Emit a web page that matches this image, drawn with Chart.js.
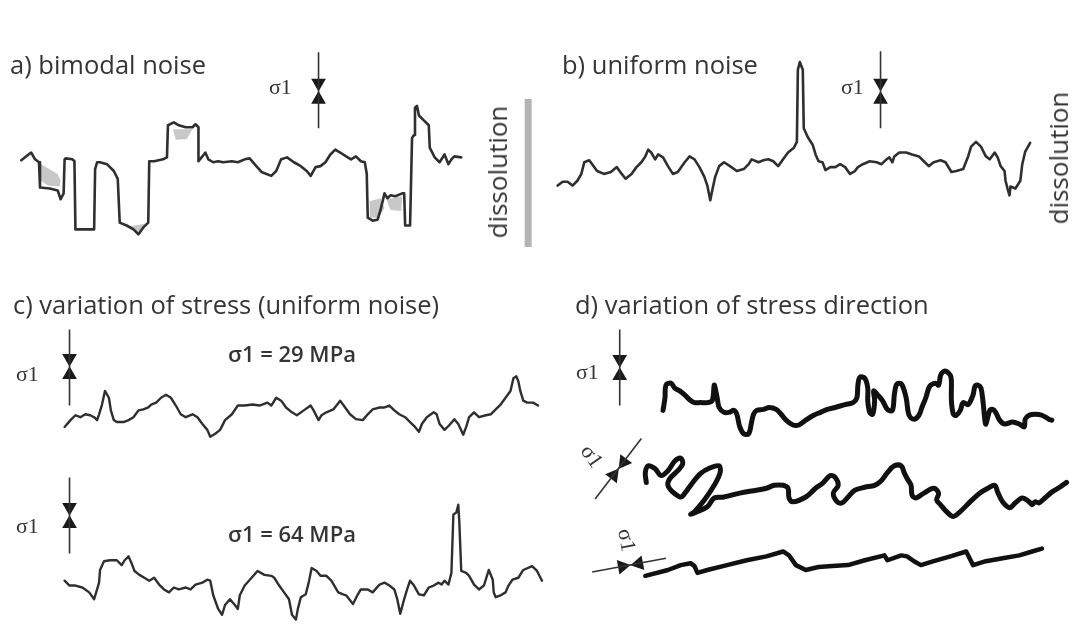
<!DOCTYPE html>
<html>
<head>
<meta charset="utf-8">
<title>Stylolite roughness</title>
<script src="https://cdn.jsdelivr.net/npm/chart.js@4.4.1/dist/chart.umd.min.js"></script>
<style>
  html, body { margin: 0; padding: 0; background: #fff; }
  #wrap { position: relative; width: 1079px; height: 632px; overflow: hidden; }
  #fig { position: absolute; left: 0; top: 0; }
  .lbl { position: absolute; white-space: nowrap; line-height: 1; color: #353535; }
  .sans { font-family: "Open Sans", "Noto Sans", sans-serif; }
  .serif { font-family: "Liberation Serif", "DejaVu Serif", serif; }
</style>
</head>
<body>
<div id="wrap">
  <canvas id="fig" width="1079" height="632"></canvas>
</div>
<script>
// traced profiles (figure units, y grows downwards)

// a) bimodal noise
const bimodalX = [13,23,27,31,32,42,50,53,56,57,58,65,67,68,87,88,90,93,100,107,111,113,120,127,132,137,142,143,148,157,161,162,168,173,180,187,190,193,193,197,200,203,208,213,218,227,233,240,245,250,257,267,272,277,283,290,297,303,307,312,317,322,327,332,337,343,348,353,358,362,364,365,370,375,378,382,385,388,393,400,402,403,408,410,412,413,415,417,422,427,428,433,438,443,447,450,453,460];
const bimodalY = [156,148,155,158,184,185,187,196,190,155,154,155,157,227,227,165,158,158,160,167,175,220,223,227,232,225,220,157,157,155,153,120,117,120,122,122,119,122,157,152,148,155,158,157,158,157,158,155,154,160,168,172,167,155,153,158,162,167,172,163,162,158,150,145,148,152,155,152,157,158,170,215,218,217,207,190,195,192,193,190,190,223,223,133,130,102,100,110,115,120,143,153,158,150,160,155,152,153];

// grey patches of dissolved material in a)
const patches = [
  { x: [33,50,53,52,40,33], y: [160,170,177,183,182,177] },
  { x: [167,187,181,170], y: [124,124,134,135] },
  { x: [122,140,135,127], y: [224,221,229,229] },
  { x: [367,378,382,376,367], y: [198,195,205,215,215] },
  { x: [384,400,399,388], y: [196,193,208,207] }
];

// b) uniform noise
const uniformX = [558,563,568,573,578,582,585,590,593,598,605,612,618,623,627,633,638,643,647,650,653,657,660,665,670,675,680,687,692,697,702,707,710,713,715,718,722,727,733,740,747,752,755,762,767,772,777,782,787,792,798,801,802,804,807,808,812,817,820,823,827,830,835,840,845,850,855,860,863,868,875,882,887,892,895,898,900,905,912,918,925,930,935,940,947,952,958,963,970,975,978,983,988,993,997,1002,1005,1008,1012,1013,1015,1017,1018,1023,1028,1030,1033,1038];
const uniformY = [182,178,178,182,177,170,158,156,160,167,170,168,163,170,175,170,163,158,152,145,148,155,150,153,162,170,168,158,152,155,163,173,182,197,187,173,162,158,162,167,165,160,155,158,156,155,157,162,155,148,143,137,63,55,63,123,132,140,150,157,158,166,163,163,160,163,170,167,163,160,157,158,160,155,153,158,152,148,148,150,152,157,162,158,156,158,168,167,165,152,142,137,142,152,155,148,153,162,167,177,185,192,183,185,177,160,147,138];

// c) sigma1 = 29 MPa
const low29X = [57,63,68,73,78,83,87,90,92,95,98,102,104,107,110,117,122,127,132,137,142,145,150,155,160,165,170,175,180,187,192,197,202,205,210,215,220,227,233,240,248,255,263,267,272,277,282,288,293,300,307,310,315,318,323,330,337,342,347,353,360,365,370,377,382,387,392,397,403,408,413,417,420,425,432,435,438,443,448,453,457,462,465,468,473,478,485,490,495,500,505,510,513,516,518,520,523,527,533,538];
const low29Y = [430,423,418,420,417,418,420,423,417,407,393,400,413,423,425,425,423,420,413,412,410,407,405,400,397,400,408,417,420,417,420,427,433,440,437,433,423,417,408,408,407,408,405,408,400,403,410,415,418,413,408,413,423,418,415,412,403,410,417,422,423,417,412,410,410,408,413,417,420,425,430,435,427,420,415,417,427,433,428,422,427,438,430,420,415,420,418,417,412,407,400,393,380,378,383,393,403,405,405,408];

// c) sigma1 = 64 MPa
const high64X = [57,62,68,75,82,87,90,92,93,97,103,110,115,118,122,125,128,133,138,143,148,153,158,163,168,173,180,185,190,197,202,205,208,213,217,220,225,230,233,235,240,247,253,260,267,270,275,280,285,288,292,294,297,302,305,308,313,317,323,328,335,340,343,350,355,358,365,370,377,382,387,392,395,398,402,405,408,412,417,422,427,432,437,440,443,447,450,452,455,457,458,460,465,468,473,478,483,488,492,493,495,500,505,508,512,518,523,532,537,542];
const high64Y = [588,593,593,595,600,607,597,590,577,568,567,567,572,567,563,570,578,582,585,588,585,592,597,600,595,597,595,597,592,590,587,588,603,617,623,613,607,613,617,603,593,585,578,582,583,585,593,600,607,623,628,617,605,602,590,575,578,583,583,588,600,602,603,612,602,597,597,600,592,590,593,597,607,622,607,597,588,593,602,603,595,593,590,592,588,592,580,520,518,510,527,578,580,583,592,597,593,577,587,600,605,603,600,593,587,585,577,573,578,588];

// d) vertical sigma1
const dirVertX = [665,667,668,673,677,682,687,692,697,703,710,715,717,718,720,722,727,732,737,740,743,747,752,755,757,760,767,773,780,785,790,797,803,810,818,825,832,840,850,858,862,863,865,870,873,873,875,878,880,879,883,888,893,898,900,902,905,908,912,915,920,925,928,932,935,937,942,945,947,950,953,957,958,958,960,963,967,970,975,980,982,985,988,990,992,993,997,1000,1003,1007,1012,1020,1027,1032,1033,1037,1043,1050,1057,1060];
const dirVertY = [413,400,387,385,390,393,397,402,405,405,405,403,387,390,400,410,415,415,413,417,430,437,437,425,417,413,412,410,412,417,423,428,428,423,418,415,412,410,407,405,400,387,379,380,390,403,415,417,403,393,397,403,412,413,397,387,385,387,400,418,422,418,410,400,390,387,385,387,377,373,373,377,383,403,417,418,413,405,407,397,388,387,390,403,423,427,413,412,415,423,427,425,427,430,422,418,417,418,422,423];

// d) oblique sigma1
const dirObliqueX = [648,647,650,657,663,670,677,683,685,680,672,670,675,683,688,693,703,713,722,723,717,707,697,693,698,710,717,727,743,760,770,778,787,792,793,797,810,820,827,835,840,843,838,842,847,853,860,870,880,887,893,900,907,910,913,917,918,922,930,940,945,943,947,953,960,967,977,987,995,1002,1005,1010,1017,1023,1030,1037,1040,1043,1047,1053,1060,1068,1075];
const dirObliqueY = [487,477,470,473,480,475,465,462,468,475,483,490,497,502,497,490,478,472,470,477,490,505,517,520,518,512,503,502,498,495,493,490,490,493,503,507,502,493,488,480,482,490,498,507,508,502,495,492,490,485,477,470,470,477,483,490,500,503,498,493,498,505,510,517,522,517,507,498,493,490,497,507,513,508,503,507,510,507,508,503,497,492,487];

// d) horizontal sigma1
const dirHorizX = [647,670,683,693,697,700,710,730,750,770,787,793,800,810,823,837,853,870,890,893,907,913,920,927,940,957,973,978,980,993,1010,1027,1040,1050];
const dirHorizY = [583,577,572,570,573,580,577,572,567,563,558,562,572,577,574,573,572,567,562,567,562,563,568,572,568,563,558,568,572,568,565,562,558,555];

// sigma1 arrow symbols: two ends and the point where the heads meet
const arrows = [
  { ends: [[315,45],[315,123]], meet: [315,85] },
  { ends: [[886,44],[886,123]], meet: [886,85] },
  { ends: [[62,330],[62,408]], meet: [62,368] },
  { ends: [[62,482],[62,560]], meet: [62,521] },
  { ends: [[621,330],[621,408]], meet: [621,369] },
  { ends: [[643,442],[596,504]], meet: [620,473] },
  { ends: [[593,579],[668,565]], meet: [632,572] }
];
const headSize = 8.5;

// text, placed by left edge + baseline, or by centre when rotated
const labels = [
  { t: 'a) bimodal noise', x: 10, b: 75, s: 25.5 },
  { t: 'b) uniform noise', x: 562, b: 75, s: 25.5 },
  { t: 'c) variation of stress (uniform noise)', x: 13, b: 315, s: 25.5 },
  { t: 'd) variation of stress direction', x: 575, b: 315, s: 25.5 },
  { t: 'σ1 = 29 MPa', x: 228, b: 362, s: 22, w: 600 },
  { t: 'σ1 = 64 MPa', x: 228, b: 542, s: 22, w: 600 },
  { t: 'σ1', x: 269, b: 94, s: 22, f: 'serif' },
  { t: 'σ1', x: 841, b: 94, s: 22, f: 'serif' },
  { t: 'σ1', x: 16, b: 381, s: 22, f: 'serif' },
  { t: 'σ1', x: 16, b: 533, s: 22, f: 'serif' },
  { t: 'σ1', x: 576, b: 379, s: 22, f: 'serif' },
  { t: 'σ1', cx: 592, cy: 456, s: 22, f: 'serif', rot: 55 },
  { t: 'σ1', cx: 627, cy: 540, s: 22, f: 'serif', rot: 80 },
  { t: 'dissolution', cx: 497, cy: 172, s: 26, rot: -90 },
  { t: 'dissolution', cx: 1058, cy: 158, s: 26, rot: -90 }
];

const pts = (xs, ys) => xs.map((x, i) => ({ x: x, y: ys[i] }));

const traceStyle = (data, width, tension) => ({
  data: data,
  showLine: true,
  borderColor: '#2f2f2f',
  borderWidth: width,
  pointRadius: 0,
  tension: tension,
  borderJoinStyle: 'round',
  borderCapStyle: 'round',
  fill: false
});

const datasets = [
  traceStyle(pts(bimodalX, bimodalY), 2.6, 0),
  traceStyle(pts(uniformX, uniformY), 2.6, 0),
  traceStyle(pts(low29X, low29Y), 2.4, 0),
  traceStyle(pts(high64X, high64Y), 2.4, 0),
  Object.assign(traceStyle(pts(dirVertX, dirVertY), 5, 0.35), { borderColor: '#111' }),
  Object.assign(traceStyle(pts(dirObliqueX, dirObliqueY), 5, 0.35), { borderColor: '#111' }),
  Object.assign(traceStyle(pts(dirHorizX, dirHorizY), 4.5, 0), { borderColor: '#111' })
];

// arrow shafts and heads
arrows.forEach(a => {
  datasets.push({
    data: a.ends.map(p => ({ x: p[0], y: p[1] })),
    showLine: true, borderColor: '#333', borderWidth: 1.6, pointRadius: 0
  });
  const heads = [], rots = [];
  a.ends.forEach(e => {
    const dx = e[0] - a.meet[0], dy = e[1] - a.meet[1];
    const len = Math.hypot(dx, dy);
    const ux = dx / len, uy = dy / len;
    heads.push({ x: a.meet[0] + ux * headSize, y: a.meet[1] + uy * headSize });
    rots.push(Math.atan2(-ux, uy) * 180 / Math.PI);
  });
  datasets.push({
    data: heads, showLine: false, pointStyle: 'triangle',
    pointRadius: headSize, pointRotation: rots,
    backgroundColor: '#1a1a1a', borderWidth: 0
  });
});

// dissolution bar in a)
datasets.push({
  data: [{ x: 528, y: 93 }, { x: 528, y: 245 }],
  showLine: true, borderColor: '#b4b4b4', borderWidth: 7, borderCapStyle: 'butt', pointRadius: 0
});

// grey patches (drawn underneath the profile)
patches.forEach(p => {
  datasets.push({
    data: pts(p.x, p.y), showLine: true, borderWidth: 0, pointRadius: 0,
    backgroundColor: '#c8c8c8', fill: 'shape'
  });
});

new Chart(document.getElementById('fig'), {
  type: 'scatter',
  data: { datasets: datasets },
  options: {
    responsive: false,
    animation: false,
    events: [],
    layout: { padding: 0 },
    scales: {
      x: { type: 'linear', min: 0, max: 1079, display: false },
      y: { type: 'linear', min: 0, max: 632, reverse: true, display: false }
    },
    plugins: { legend: { display: false }, tooltip: { enabled: false } },
    datasets: { scatter: { clip: false } }
  }
});

// html labels
const wrap = document.getElementById('wrap');
labels.forEach(l => {
  const d = document.createElement('div');
  d.className = 'lbl ' + (l.f === 'serif' ? 'serif' : 'sans');
  d.textContent = l.t;
  d.style.fontSize = l.s + 'px';
  if (l.w) d.style.fontWeight = l.w;
  const asc = l.f === 'serif' ? 0.8375 : 0.888;
  if (l.rot !== undefined) {
    d.style.left = l.cx + 'px';
    d.style.top = l.cy + 'px';
    d.style.transform = 'translate(-50%,-50%) rotate(' + l.rot + 'deg)';
  } else {
    d.style.left = l.x + 'px';
    d.style.top = (l.b - asc * l.s) + 'px';
  }
  wrap.appendChild(d);
});
</script>
</body>
</html>
